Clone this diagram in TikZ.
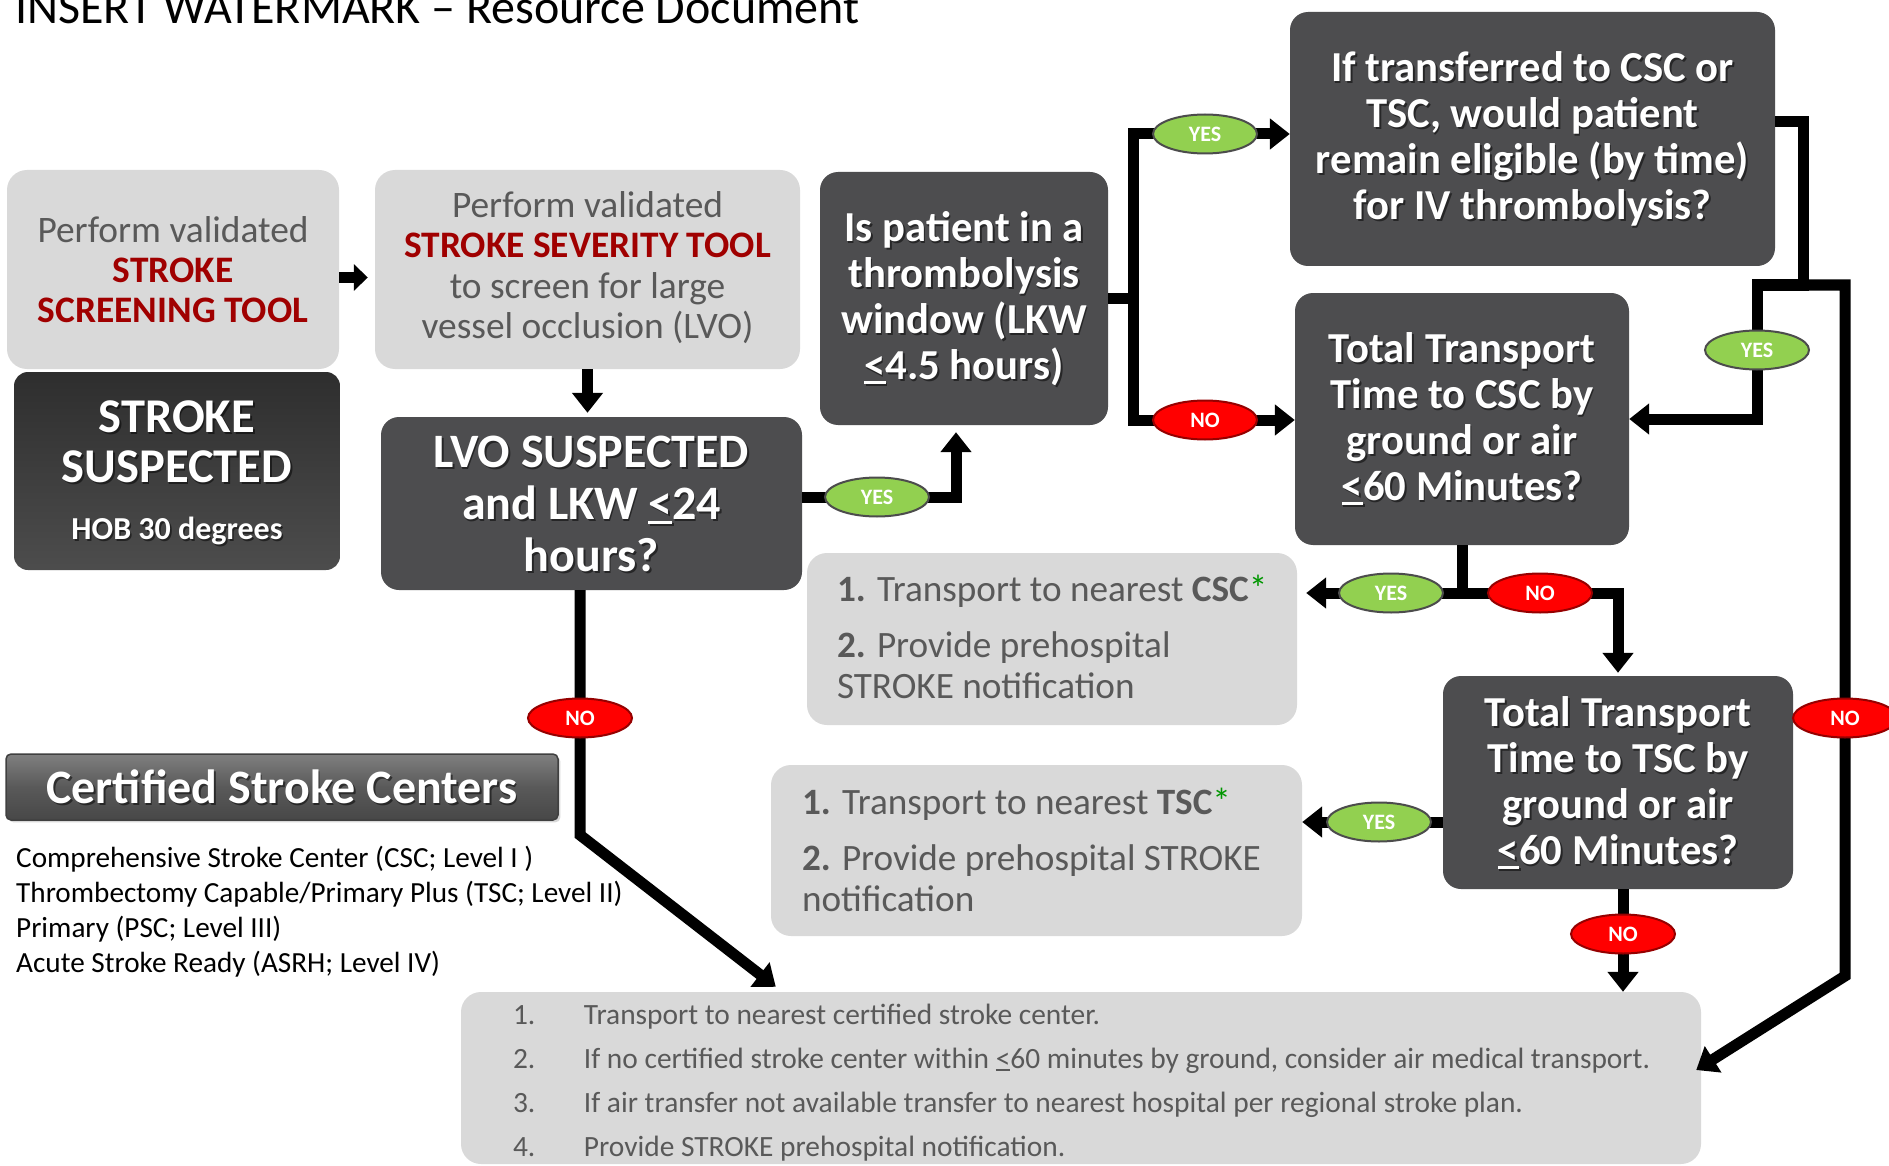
\documentclass[tikz,border=0pt]{standalone}
\usepackage{fontspec}
\setmainfont{Carlito}
\usetikzlibrary{arrows.meta,shapes.geometric,calc,shadows}
\definecolor{cDark}{RGB}{77,77,79}
\definecolor{cLight}{RGB}{217,217,217}
\definecolor{cTxtGray}{RGB}{89,89,89}
\definecolor{cToolRed}{RGB}{160,0,0}
\definecolor{cYes}{RGB}{146,208,80}
\definecolor{cNo}{RGB}{255,0,0}
\definecolor{cNoEdge}{RGB}{150,0,0}
\definecolor{cStar}{RGB}{0,150,0}
\newcommand\lequ{\makebox[0pt][l]{\rule[-0.1em]{0.5em}{0.07em}}<}
\newcommand\shtext[4]{%
  \node[#2, text=black, text opacity=0.5] (#1s) at ([shift={(1.6pt,-2pt)}]#3) {#4};
  \node[#2, text=white] (#1) at (#3) {#4};}
\tikzset{
  darkbox/.style={fill=cDark, rounded corners=18pt, inner sep=0pt},
  lightbox/.style={fill=cLight, rounded corners=20pt, inner sep=0pt},
  conn/.style={line width=11pt, line join=miter, -{Triangle[width=30pt,length=20pt]}},
  smallconn/.style={line width=11pt, -{Triangle[width=26pt,length=14pt]}},
  lbl/.style={ellipse, line width=2pt, minimum width=104pt, minimum height=39pt, inner sep=0pt, text=white, font=\bfseries\fontsize{22}{22}\selectfont},
  yeslbl/.style={lbl, fill=cYes, draw=black!70},
  nolbl/.style={lbl, fill=cNo, draw=cNoEdge},
  wt/.style={align=center, inner sep=0pt},
  qfont/.style={font=\bfseries\fontsize{42.7}{46}\selectfont},
}
\begin{document}
\begin{tikzpicture}[x=1pt,y=-1pt]
\useasboundingbox (0,0) rectangle (1889,1166);
\fill[white] (0,0) rectangle (1889,1166);

% title
\node[anchor=base west, inner sep=0pt, font=\fontsize{48}{50}\selectfont] (title) at (15,24) {INSERT WATERMARK – Resource Document};

% boxes
\node[lightbox, minimum width=332pt, minimum height=199pt] (scr) at (173,269.5) {};
\node[lightbox, minimum width=425pt, minimum height=199pt] (sev) at (587.5,269.5) {};
\node[rounded corners=14pt, inner sep=0pt, top color=black!82, bottom color=black!70, minimum width=326pt, minimum height=198pt] (sus) at (177,471) {};
\node[darkbox, minimum width=421pt, minimum height=173pt] (lvo) at (591.5,503.5) {};
\node[darkbox, minimum width=288pt, minimum height=253pt] (thromb) at (964,298.5) {};
\node[darkbox, minimum width=485pt, minimum height=254pt] (ifbox) at (1532.5,139) {};
\node[darkbox, minimum width=334pt, minimum height=252pt] (csc) at (1462,419) {};
\node[darkbox, minimum width=350pt, minimum height=213pt] (tsc) at (1618,782.5) {};
\node[lightbox, minimum width=490pt, minimum height=172pt] (cscl) at (1052,639) {};
\node[lightbox, minimum width=531pt, minimum height=171pt] (tscl) at (1036.5,850.5) {};
\node[lightbox, minimum width=1240pt, minimum height=172pt] (bot) at (1081,1078) {};
\node[rounded corners=5pt, inner sep=0pt, draw=black!75, line width=1.5pt, top color=black!50, bottom color=black!72, middle color=black!65, drop shadow={opacity=0.3}, minimum width=552pt, minimum height=66pt] (banner) at (282,787) {};

% texts in light boxes
\node[wt, text=cTxtGray, font=\fontsize{37.4}{40}\selectfont] (scrt) at (scr.center) {Perform validated\\\textcolor{cToolRed}{\bfseries STROKE}\\\textcolor{cToolRed}{\bfseries SCREENING TOOL}};
\node[wt, text=cTxtGray, font=\fontsize{37.4}{40.5}\selectfont] (sevt) at ([yshift=2pt]sev.center) {Perform validated\\\textcolor{cToolRed}{\bfseries STROKE SEVERITY TOOL}\\to screen for large\\vessel occlusion (LVO)};
\node[anchor=west, align=left, inner sep=0pt, text=cTxtGray, font=\fontsize{37.2}{41}\selectfont] (csclt) at ([xshift=30pt,yshift=2pt]cscl.west) {\textbf{1.} Transport to nearest \textbf{CSC}\textcolor{cStar}{*}\\[15pt]\textbf{2.} Provide prehospital\\STROKE notification};
\node[anchor=west, align=left, inner sep=0pt, text=cTxtGray, font=\fontsize{37.2}{41}\selectfont] (tsclt) at ([xshift=31pt,yshift=1pt]tscl.west) {\textbf{1.} Transport to nearest \textbf{TSC}\textcolor{cStar}{*}\\[15pt]\textbf{2.} Provide prehospital STROKE\\notification};
\node[anchor=west, align=left, inner sep=0pt, text=cTxtGray, font=\fontsize{29.4}{44}\selectfont] (bott) at ([xshift=52pt,yshift=-4.5pt]bot.west) {\makebox[71pt][l]{1.}Transport to nearest certified stroke center.\\\makebox[71pt][l]{2.}If no certified stroke center within \lequ60 minutes by ground, consider air medical transport.\\\makebox[71pt][l]{3.}If air transfer not available transfer to nearest hospital per regional stroke plan.\\\makebox[71pt][l]{4.}Provide STROKE prehospital notification.};
\node[anchor=west, align=left, inner sep=0pt, font=\fontsize{29.2}{35}\selectfont] (list) at (16,911.5) {Comprehensive Stroke Center (CSC; Level I )\\Thrombectomy Capable/Primary Plus (TSC; Level II)\\Primary (PSC; Level III)\\Acute Stroke Ready (ASRH; Level IV)};

% white texts
\coordinate (susA) at (177,442);
\coordinate (susB) at (177,531);
\shtext{sust}{wt, font=\bfseries\fontsize{48.5}{50}\selectfont}{susA}{STROKE\\SUSPECTED}
\shtext{hobt}{wt, font=\bfseries\fontsize{32}{34}\selectfont}{susB}{HOB 30 degrees}
\shtext{lvot}{wt, font=\bfseries\fontsize{48}{52}\selectfont}{lvo.center}{LVO SUSPECTED\\and LKW \lequ24\\hours?}
\shtext{thrombt}{wt, qfont}{thromb.center}{Is patient in a\\thrombolysis\\window (LKW\\\lequ4.5 hours)}
\shtext{ift}{wt, qfont}{ifbox.center}{If transferred to CSC or\\TSC, would patient\\remain eligible (by time)\\for IV thrombolysis?}
\shtext{csct}{wt, qfont}{csc.center}{Total Transport\\Time to CSC by\\ground or air\\\lequ60 Minutes?}
\shtext{tsct}{wt, qfont}{tsc.center}{Total Transport\\Time to TSC by\\ground or air\\\lequ60 Minutes?}
\shtext{bannert}{wt, font=\bfseries\fontsize{48}{50}\selectfont}{banner.center}{Certified Stroke Centers}

% label positions
\coordinate (yA) at (877,497);
\coordinate (yB) at (1205,134);
\coordinate (nB) at (1205,420);
\coordinate (j2) at (1803,285);
\coordinate (yC) at (1757,350);
\coordinate (nC) at (1845,718);
\coordinate (k1) at (1845,976);
\coordinate (yD) at (1391,593);
\coordinate (nD) at (1540,593);
\coordinate (yE) at (1379,822);
\coordinate (nE) at (1623,934);
\coordinate (nF) at (580,718);
\coordinate (k3) at (580,835);

% connectors
\draw[smallconn, shorten >=7pt] ([yshift=-8pt]scr.east) -- ([yshift=-8pt]sev.west);
\draw[conn, shorten >=4pt] (sev.south) -- (sev.south |- lvo.north);
\draw[conn, shorten >=7pt] (lvo.east |- yA) -| ([xshift=-8pt]thromb.south);
\draw[conn] (thromb.east) -- ++(25,0) |- (ifbox.west |- yB);
\draw[conn] (thromb.east) -- ++(25,0) |- (csc.west |- nB);
\draw[conn] ([yshift=17pt]ifbox.east) -| (j2) -| (yC) |- (csc.east);
\draw[conn] (j2) -| (nC) -- (k1) -- ([xshift=-5pt,yshift=8pt]bot.east);
\draw[conn, shorten >=9pt] (csc.south) |- (cscl.east |- yD);
\draw[conn, shorten >=3pt] (csc.south) |- (nD) -| (tsc.north);
\draw[conn] (tsc.west |- yE) -- (tscl.east |- yE);
\draw[conn] ([xshift=5pt]tsc.south) -- ([xshift=5pt]tsc.south |- bot.north);
\draw[conn] (lvo.south -| nF) -- (k3) -- ([xshift=315pt,yshift=5pt]bot.north west);

% labels
\node[yeslbl] (yesA) at (yA) {YES};
\node[yeslbl] (yesB) at (yB) {YES};
\node[nolbl] (noB) at (nB) {NO};
\node[yeslbl] (yesC) at (yC) {YES};
\node[nolbl] (noC) at (nC) {NO};
\node[yeslbl] (yesD) at (yD) {YES};
\node[nolbl] (noD) at (nD) {NO};
\node[yeslbl] (yesE) at (yE) {YES};
\node[nolbl] (noE) at (nE) {NO};
\node[nolbl] (noF) at (nF) {NO};
\end{tikzpicture}
\end{document}
